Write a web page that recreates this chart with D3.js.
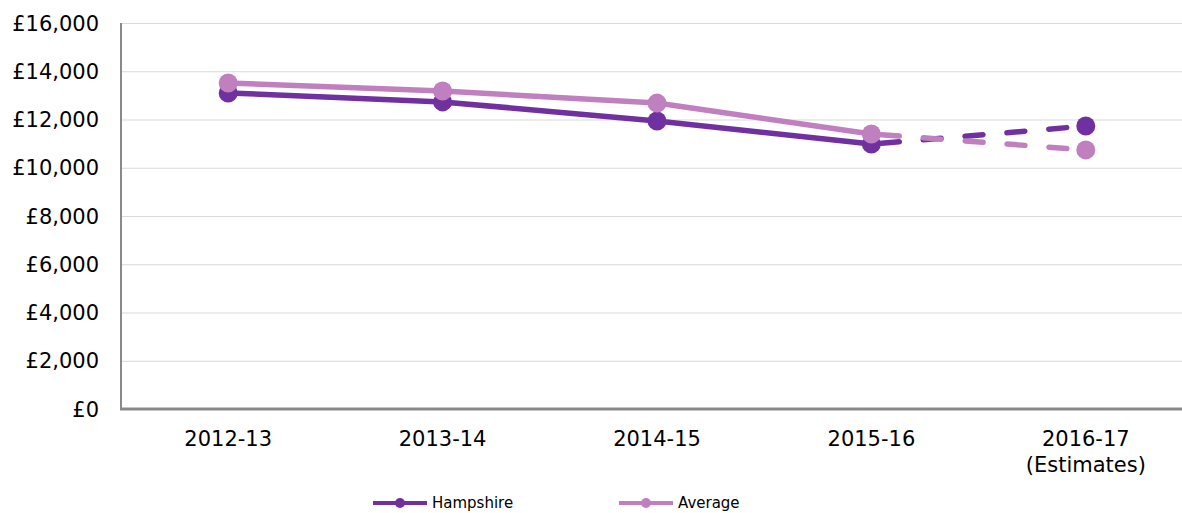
<!DOCTYPE html>
<html><head><meta charset="utf-8">
<script src="https://cdn.jsdelivr.net/npm/d3@7"></script>
<style>body{margin:0;background:#fff}svg{display:block}text{font-family:"DejaVu Sans",Verdana,sans-serif;fill:#000}</style>
</head><body><svg id="c" width="1182" height="513"></svg>
<script>
const categories = ["2012-13","2013-14","2014-15","2015-16","2016-17\n(Estimates)"];
const hampshire = [13100, 12730, 11940, 10980, 11730];
const average = [13510, 13180, 12680, 11400, 10740];
const yTicks = [0,2000,4000,6000,8000,10000,12000,14000,16000];
const seriesNames = ["Hampshire","Average"];
const colors = ["#7030a0","#c07fbf"];

const svg = d3.select("#c");
const x = d3.scalePoint().domain(categories).range([121,1193]).padding(0.5);
const y = d3.scaleLinear().domain([0,16000]).range([409,23]);

// grid
svg.append("g").selectAll("line").data(yTicks.filter(d=>d>0)).join("line")
  .attr("x1",121).attr("x2",1182).attr("y1",d=>y(d)+0.5).attr("y2",d=>y(d)+0.5)
  .attr("stroke","#d9d9d9").attr("stroke-width",1);

// y labels
const fmt = d => "£" + d3.format(",")(d);
svg.append("g").selectAll("text").data(yTicks).join("text")
  .attr("x",99).attr("y",d=>y(d)).attr("dy","0.36em").attr("text-anchor","end")
  .style("font-size","21px").text(fmt);

// axes
svg.append("line").attr("x1",121).attr("x2",121).attr("y1",23).attr("y2",410).attr("stroke","#898989").attr("stroke-width",2);
svg.append("line").attr("x1",120).attr("x2",1182).attr("y1",409).attr("y2",409).attr("stroke","#898989").attr("stroke-width",3);

// x labels
const xl = svg.append("g").selectAll("text").data(categories).join("text")
  .attr("x",d=>x(d)).attr("y",446).attr("text-anchor","middle").style("font-size","21px");
xl.each(function(d){
  const parts = d.split("\n");
  const t = d3.select(this);
  parts.forEach((p,i)=>t.append("tspan").attr("x",x(d)).attr("dy",i?"1.24em":0).text(p));
});

// series
const data = [hampshire, average];
data.forEach((vals,si)=>{
  const pts = vals.map((v,i)=>[x(categories[i]), y(v)]);
  const g = svg.append("g");
  const line = d3.line();
  g.append("path").attr("d",line(pts.slice(0,4))).attr("fill","none")
    .attr("stroke",colors[si]).attr("stroke-width",5.5).attr("stroke-linejoin","round");
  g.append("path").attr("d",line(pts.slice(3,5))).attr("fill","none")
    .attr("stroke",colors[si]).attr("stroke-width",5.5).attr("stroke-linecap","round")
    .attr("stroke-dasharray","18,24").attr("stroke-dashoffset",-10);
  g.selectAll("circle").data(pts).join("circle")
    .attr("cx",d=>d[0]).attr("cy",d=>d[1]).attr("r",9.5).attr("fill",colors[si]);
});

// legend
const legX = [373, 619];
seriesNames.forEach((n,i)=>{
  const g = svg.append("g");
  g.append("line").attr("x1",legX[i]).attr("x2",legX[i]+54).attr("y1",503).attr("y2",503)
    .attr("stroke",colors[i]).attr("stroke-width",4);
  g.append("circle").attr("cx",legX[i]+27).attr("cy",503).attr("r",5).attr("fill",colors[i]);
  g.append("text").attr("x",legX[i]+59).attr("y",503).attr("dy","0.36em").style("font-size","15px").text(n);
});
</script></body></html>
